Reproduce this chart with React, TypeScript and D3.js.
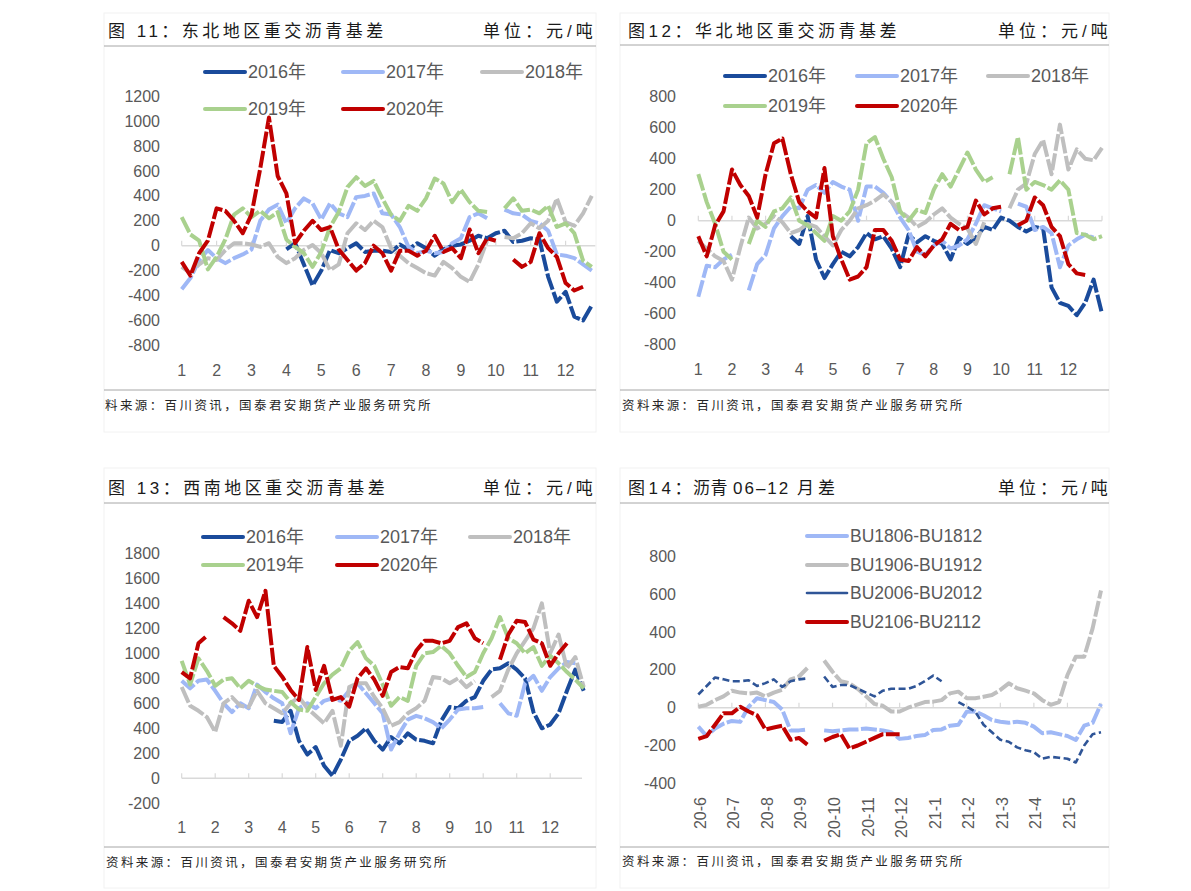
import React from 'react';
import * as d3 from 'd3';

// ---------- DATA (4 samples per month, index i -> month i/4) ----------
const monthLabels = ['1', '2', '3', '4', '5', '6', '7', '8', '9', '10', '11', '12'];
const yearNames = ['2016年', '2017年', '2018年', '2019年', '2020年'];
const yearColors = ['#1a4b9b', '#9fb8f6', '#bfbfbf', '#a9d18e', '#c00000'];

// 东北
const ne2016 = [null, null, null, null, null, null, null, null, null, null, null, null, -30, 20, -150, -320, -200, -35, -60, -20, 20, -50, -40, -40, -50, 10, -30, 20, -20, -80, -30, 0, 10, 40, 80, 60, 100, 120, 30, 40, 60, 50, -250, -450, -370, -570, -600, -480];
const ne2017 = [-350, -260, -115, -35, -100, -140, -100, -70, -30, 200, 290, 330, 180, 300, 380, 340, 210, 340, 260, 230, 390, 400, 420, 260, 250, 150, -10, -60, -40, -60, -50, 20, 60, 230, 260, 220, null, 290, 260, 250, 200, 180, 120, -70, -80, -100, -150, -200];
const ne2018 = [-170, -220, -150, -100, -115, -35, 20, 20, 10, -10, 20, -90, -140, -100, -35, 5, -60, -196, -150, 100, 180, 126, 200, 150, -20, -80, -140, -180, -220, -240, -130, -180, -250, -290, -150, 40, null, 70, 60, 100, 180, 140, 200, 380, 190, 160, 260, 400];
const ne2019 = [230, 90, 40, -190, -90, 50, 250, 300, 230, 280, 220, 270, 50, -10, -60, -170, -50, 150, 270, 470, 550, 480, 520, 380, 250, 200, 320, 280, 380, 540, 500, 350, 450, 350, 280, 270, null, 300, 380, 280, 290, 260, 320, 150, 180, 100, -120, -170];
const ne2020 = [-130, -240, -60, 40, 300, 280, 200, 100, 250, 620, 1030, 560, 420, 20, 120, 200, 126, 150, -30, -115, -200, -140, 0, -60, -200, -40, -40, -80, -40, 80, -50, -20, -100, 130, -60, 60, 40, null, -110, -170, -130, 100, -20, -90, -300, -360, -330, null];

// 华北
const nc2016 = [null, null, null, null, null, null, null, null, null, null, null, -100, -150, 30, -250, -370, -280, -200, -230, -170, -80, -120, -100, -180, -300, -90, -140, -100, -130, -150, -250, -110, -150, -110, -40, -60, 20, 0, -40, -70, -40, -50, -430, -530, -550, -610, -530, -380, -600];
const nc2017 = [-490, -290, -300, -250, -220, null, -450, -280, -220, -50, 30, 90, 80, 200, 230, 180, 250, 220, 200, 0, 220, 220, 180, 120, 20, -60, -200, -220, -160, -130, -180, -160, -120, -20, 100, 80, 60, null, 110, 90, -60, -40, -80, -300, -160, -120, -90, -110, null];
const nc2018 = [-130, -180, -230, -260, -380, -170, 20, -50, -20, 30, -10, -80, -60, -20, -40, -100, -160, -60, 0, 80, 100, 130, 170, 120, 60, 20, -40, -10, 40, 80, 20, -20, -50, -150, -10, null, null, 80, 200, 240, 430, 520, 300, 620, 330, 460, 400, 390, 470];
const nc2019 = [300, 120, -20, -200, -250, null, -150, 0, -40, 60, 80, 150, 0, -30, -80, -130, 30, 0, 60, 200, 500, 540, 400, 280, 60, 0, 70, 50, 200, 300, 220, 330, 440, 330, 250, 280, null, 300, 540, 200, 250, 230, 200, 260, 200, -80, -90, -120, -100];
const nc2020 = [-100, -230, -30, 60, 330, 230, 160, 20, 300, 500, 530, 300, 120, 60, 20, 340, -100, -250, -380, -360, -300, -60, -60, -130, -250, -260, -170, -230, -160, -120, -20, -60, -40, 130, 40, 80, 90, null, -30, 0, 150, 100, -40, -100, -280, -340, -350, null, null];

// 西南
const sw2016 = [null, null, null, null, null, null, null, null, null, null, null, 460, 450, 540, 300, 190, 250, 100, 20, 150, 300, 340, 400, 300, 230, 330, 280, 360, 310, 300, 280, 460, 570, 560, 620, 650, 780, 870, 880, 920, 870, 800, 530, 400, 430, 520, 700, 870, 700];
const sw2017 = [780, 720, 780, 790, 700, 600, 530, 600, 560, 750, 690, 640, 600, 360, 560, 600, 560, 620, 640, 620, 700, 760, 680, 600, 520, 230, 360, 470, 500, 480, 450, 400, 470, 550, 560, 560, 570, null, 600, 520, 500, 760, 820, 700, 810, 880, 930, 920, null];
const sw2018 = [730, 580, 540, 490, 370, 600, 650, 580, 570, 700, 600, 560, 520, 600, 650, 560, 500, 440, 540, 260, 730, 760, 760, 650, 560, 420, 450, 520, 560, 620, 810, 800, 760, 800, 730, 780, null, 650, 700, 870, 1000, 1100, 1200, 1400, 1000, 1150, 880, 970, 730];
const sw2019 = [940, 750, 960, 860, 740, 790, 800, 720, 780, 740, 710, 700, 690, 610, 550, 540, 650, 760, 830, 880, 1020, 1090, 960, 900, 750, 580, 650, 620, 900, 1000, 1010, 1060, 1000, 900, 810, 850, 1000, 1120, 1290, 1120, 1080, 1000, 1050, 900, 980, 920, 850, 790, 720];
const sw2020 = [850, 800, 1080, 1140, null, 1290, 1240, 1180, 1420, 1290, 1500, 900, 813, 707, 627, 1050, 707, 900, 627, 650, 573, 800, 880, 790, 660, 850, 890, 880, 1020, 1100, 1100, 1080, 1100, 1210, 1240, 1120, 1080, null, 950, 1150, 1260, 1250, 1110, 1080, 900, 1000, 1080, null, null];

// 06-12 月差
const spreadMonths = ['20-6', '20-7', '20-8', '20-9', '20-10', '20-11', '20-12', '21-1', '21-2', '21-3', '21-4', '21-5'];
const spreadNames = ['BU1806-BU1812', 'BU1906-BU1912', 'BU2006-BU2012', 'BU2106-BU2112'];
const spreadColors = ['#9fb8f6', '#bfbfbf', '#2f5597', '#c00000'];
const bu18 = [-100, -150, -110, -85, -70, -75, 5, 50, 40, 30, -10, -120, -120, -115, null, -120, -125, -120, -115, -115, -110, -115, -120, -130, -165, -160, -150, -145, -118, -115, -95, -90, -21, -20, -40, -65, -74, -80, -74, -80, -100, -135, -130, -140, -150, -171, -95, -80, 20];
const bu19 = [5, 15, 40, 60, 90, 80, 75, 80, 60, 80, 95, 150, 165, 210, null, 250, 190, 140, 130, 100, 60, 20, 10, -20, -20, 0, 15, 30, 32, 40, 76, 85, 50, 50, 58, 67, 94, 129, 103, 90, 76, 40, 15, 30, 173, 270, 270, 420, 620];
const bu20 = [70, 115, 160, 150, 140, 140, 145, 115, 130, 150, 110, 140, 150, 155, null, 165, 110, 120, 120, 100, 80, 60, 90, 100, 100, 100, 115, 140, 170, 140, null, 30, 5, -20, -90, -130, -170, -180, -210, -225, -235, -270, -260, -265, -270, -290, -200, -140, -130];
const bu21 = [-165, -150, -90, -30, -30, 5, -20, -40, -115, -105, -95, -170, -160, -195, null, -175, -155, -140, -215, -200, -180, -160, -140, -140, -140];

const footSource = '资料来源：百川资讯，国泰君安期货产业服务研究所';

// ---------- STYLE ----------
const LAT = "'Liberation Sans', Arial, 'Noto Sans CJK SC', sans-serif";
const CJK = "'Liberation Sans', 'Noto Sans CJK SC', sans-serif";
const AXIS_TEXT = '#595959';

type Val = number | null;
interface Ser { name: string; color: string; values: Val[]; width: number; dash: string; legendWidth: number }
interface Cfg {
  frame: [number, number, number, number];
  titleParts: { text: string; x: number; ls: number }[];
  titleY: number;
  unitX: number;
  sepY: number;
  footY: number;
  footTextY: number;
  footX: number;
  footText: string;
  xRange: [number, number];
  zeroEnd: number;
  yDomain: [number, number];
  yRange: [number, number];
  yLabelX: number;
  xLabels: string[];
  xLabelY: number;
  rotated: boolean;
  legendPos: [number, number][];
  series: Ser[];
}

function Panel({ c }: { c: Cfg }) {
  const x = d3.scaleLinear().domain([0, 12]).range(c.xRange);
  const y = d3.scaleLinear().domain(c.yDomain).range(c.yRange);
  const ticks = d3.range(c.yDomain[0], c.yDomain[1] + 1, 200);
  const line = d3
    .line<Val>()
    .defined((v) => v != null)
    .x((_, i) => x(i / 4))
    .y((v) => y(v as number));
  const [fx0, fy0, fx1, fy1] = c.frame;
  const monthTicks = d3.range(0, Math.floor(c.zeroEnd) + 1);
  return (
    <g>
      <rect x={fx0} y={fy0} width={fx1 - fx0} height={fy1 - fy0} fill="none" stroke="#f2f2f2" strokeWidth={1} />
      {/* title */}
      <text y={c.titleY} dominantBaseline="central" fontFamily={CJK} fontSize={17} fill="#1a1a1a">
        {c.titleParts.map((p, i) => (
          <tspan key={i} x={p.x} letterSpacing={p.ls}>
            {p.text}
          </tspan>
        ))}
      </text>
      <text x={c.unitX} y={c.titleY} dominantBaseline="central" fontFamily={CJK} fontSize={17} letterSpacing={4} fill="#1a1a1a">
        单位：元/吨
      </text>
      <line x1={fx0} x2={fx1} y1={c.sepY} y2={c.sepY} stroke="#a6a6a6" strokeWidth={1} />
      {/* footer */}
      <line x1={fx0} x2={fx1} y1={c.footY} y2={c.footY} stroke="#a6a6a6" strokeWidth={1} />
      <text x={c.footX} y={c.footTextY} dominantBaseline="central" fontFamily={CJK} fontSize={12.5} letterSpacing={2.4} fill="#262626">
        {c.footText}
      </text>
      {/* y axis labels */}
      {ticks.map((t) => (
        <text key={t} x={c.yLabelX} y={y(t)} textAnchor="end" dominantBaseline="central" fontFamily={LAT} fontSize={16} fill={AXIS_TEXT}>
          {t}
        </text>
      ))}
      {/* zero axis line + ticks */}
      <line x1={x(0)} x2={x(c.zeroEnd)} y1={y(0)} y2={y(0)} stroke="#d9d9d9" strokeWidth={1.5} />
      {monthTicks.map((m) => (
        <line key={m} x1={x(m)} x2={x(m)} y1={y(0)} y2={y(0) - 5} stroke="#d9d9d9" strokeWidth={1.2} />
      ))}
      {/* x labels */}
      {c.xLabels.map((l, i) =>
        c.rotated ? (
          <text key={l} transform={`translate(${x(i) + 2},${c.xLabelY}) rotate(-90)`} textAnchor="end" dominantBaseline="central" fontFamily={LAT} fontSize={16} fill={AXIS_TEXT}>
            {l}
          </text>
        ) : (
          <text key={l} x={x(i)} y={c.xLabelY} textAnchor="middle" dominantBaseline="central" fontFamily={LAT} fontSize={16} fill={AXIS_TEXT}>
            {l}
          </text>
        )
      )}
      {/* series */}
      {c.series.map((s) => (
        <path key={s.name} d={line(s.values) || ''} fill="none" stroke={s.color} strokeWidth={s.width} strokeDasharray={s.dash} strokeLinejoin="round" strokeLinecap="butt" />
      ))}
      {/* legend */}
      {c.series.map((s, i) => {
        const [lx, ly] = c.legendPos[i];
        return (
          <g key={'lg' + s.name}>
            <line x1={lx} x2={lx + 40} y1={ly} y2={ly} stroke={s.color} strokeWidth={s.legendWidth} strokeLinecap="round" />
            <text x={lx + 43} y={ly} dominantBaseline="central" fontFamily={LAT} fontSize={s.name.startsWith('BU') ? 17.5 : 18} fill={AXIS_TEXT}>
              {s.name}
            </text>
          </g>
        );
      })}
    </g>
  );
}

const mkYears = (arrs: Val[][]): Ser[] =>
  arrs.map((v, i) => ({ name: yearNames[i], color: yearColors[i], values: v, width: 4, dash: '17 2.5', legendWidth: 4 }));

const p1: Cfg = {
  frame: [104, 13, 596, 432],
  titleParts: [{ text: '图 11：东北地区重交沥青基差', x: 108, ls: 3.5 }],
  titleY: 31,
  unitX: 483,
  sepY: 46,
  footY: 390,
  footTextY: 406,
  footX: 105,
  footText: '料来源：百川资讯，国泰君安期货产业服务研究所',
  xRange: [181.7, 600.5],
  zeroEnd: 11.85,
  yDomain: [-800, 1200],
  yRange: [345.3, 96.3],
  yLabelX: 160,
  xLabels: monthLabels,
  xLabelY: 370,
  rotated: false,
  legendPos: [[205, 72], [343, 72], [482, 72], [205, 109], [343, 109]],
  series: mkYears([ne2016, ne2017, ne2018, ne2019, ne2020]),
};

const p2: Cfg = {
  frame: [620, 13, 1109, 432],
  titleParts: [{ text: '图12：华北地区重交沥青基差', x: 628, ls: 3.5 }],
  titleY: 31,
  unitX: 998,
  sepY: 45,
  footY: 390,
  footTextY: 406,
  footX: 622,
  footText: footSource,
  xRange: [698.3, 1102],
  zeroEnd: 12,
  yDomain: [-800, 800],
  yRange: [344.7, 96.7],
  yLabelX: 676,
  xLabels: monthLabels,
  xLabelY: 369,
  rotated: false,
  legendPos: [[725, 76], [857, 76], [988, 76], [725, 106], [857, 106]],
  series: mkYears([nc2016, nc2017, nc2018, nc2019, nc2020]),
};

const p3: Cfg = {
  frame: [104, 468, 596, 888],
  titleParts: [{ text: '图 13：西南地区重交沥青基差', x: 108, ls: 3.5 }],
  titleY: 488,
  unitX: 483,
  sepY: 503,
  footY: 847,
  footTextY: 863,
  footX: 106,
  footText: footSource,
  xRange: [181.7, 583.7],
  zeroEnd: 11.95,
  yDomain: [-200, 1800],
  yRange: [803.3, 553.3],
  yLabelX: 160,
  xLabels: monthLabels,
  xLabelY: 827,
  rotated: false,
  legendPos: [[203, 537], [337, 537], [470, 537], [203, 565], [337, 565]],
  series: mkYears([sw2016, sw2017, sw2018, sw2019, sw2020]),
};

const p4: Cfg = {
  frame: [620, 468, 1109, 888],
  titleParts: [
    { text: '图14：', x: 628, ls: 3.5 },
    { text: '沥青', x: 693, ls: 0.5 },
    { text: '06–12', x: 733, ls: 2 },
    { text: '月差', x: 797, ls: 4 },
  ],
  titleY: 488,
  unitX: 998,
  sepY: 503,
  footY: 847,
  footTextY: 862,
  footX: 622,
  footText: footSource,
  xRange: [698.3, 1101],
  zeroEnd: 12.05,
  yDomain: [-400, 800],
  yRange: [783.3, 556.5],
  yLabelX: 676,
  xLabels: spreadMonths,
  xLabelY: 797,
  rotated: true,
  legendPos: [[807, 536], [807, 565], [807, 593], [807, 622]],
  series: [bu18, bu19, bu20, bu21].map((v, i) => ({
    name: spreadNames[i],
    color: spreadColors[i],
    values: v,
    width: i === 2 ? 2.6 : 4,
    dash: i === 2 ? '7 3.5' : '16 2.5',
    legendWidth: i === 2 ? 2.6 : 4,
  })),
};

export default function App() {
  return (
    <div style={{ position: 'absolute', left: 0, top: 0, width: 1191, height: 891, background: '#fff' }}>
      <svg width={1191} height={891} style={{ display: 'block' }}>
        <rect width={1191} height={891} fill="#fff" />
        <Panel c={p1} />
        <Panel c={p2} />
        <Panel c={p3} />
        <Panel c={p4} />
      </svg>
    </div>
  );
}
